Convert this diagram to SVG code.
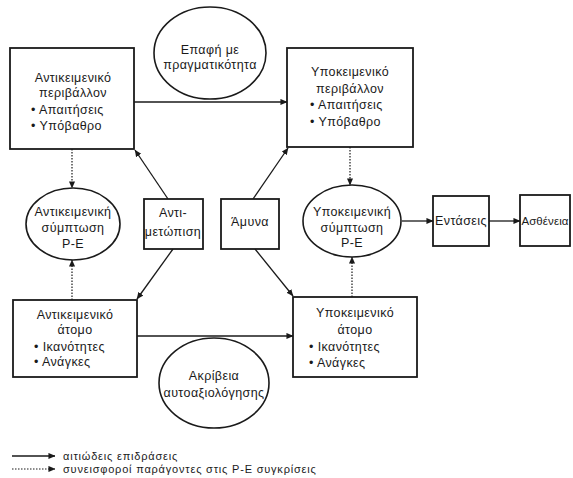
<svg xmlns="http://www.w3.org/2000/svg" width="573" height="478" viewBox="0 0 573 478">
<defs>
<marker id="ah" viewBox="0 0 8 8" refX="7.5" refY="4" markerWidth="7" markerHeight="7" markerUnits="userSpaceOnUse" orient="auto">
<path d="M0,0.5 L8,4 L0,7.5 Z" fill="#1a1a1a"/>
</marker>
</defs>
<style>
text{font-family:"Liberation Sans","DejaVu Sans",Arial,sans-serif;font-size:12.5px;letter-spacing:0.4px;fill:#1a1a1a}
.c{text-anchor:middle}
.box{fill:#fff;stroke:#1a1a1a;stroke-width:1.8}
.ell{fill:#fff;stroke:#1a1a1a;stroke-width:1.6}
.sol{stroke:#1a1a1a;stroke-width:1.3;fill:none}
.dot{stroke:#1a1a1a;stroke-width:1.2;fill:none;stroke-dasharray:1.5 1.5}
.lg{font-size:11px;letter-spacing:0.8px}
.sm{font-size:11.5px;letter-spacing:0.1px}
</style>
<rect width="573" height="478" fill="#fff"/>

<g id="connectors">
<line class="sol" x1="134" y1="102" x2="287" y2="102" marker-end="url(#ah)"/>
<line class="sol" x1="137" y1="336" x2="293" y2="336" marker-end="url(#ah)"/>
<line class="dot" x1="72" y1="149" x2="72" y2="188" marker-end="url(#ah)"/>
<line class="dot" x1="72" y1="300" x2="72" y2="260" marker-end="url(#ah)"/>
<line class="dot" x1="350" y1="147" x2="350" y2="185" marker-end="url(#ah)"/>
<line class="dot" x1="352" y1="297" x2="352" y2="257" marker-end="url(#ah)"/>
<line class="sol" x1="168" y1="199" x2="135" y2="150" marker-end="url(#ah)"/>
<line class="sol" x1="173" y1="249" x2="137" y2="299" marker-end="url(#ah)"/>
<line class="sol" x1="253" y1="199" x2="288" y2="148" marker-end="url(#ah)"/>
<line class="sol" x1="255" y1="249" x2="293" y2="296" marker-end="url(#ah)"/>
<line class="sol" x1="402" y1="221" x2="433" y2="221" marker-end="url(#ah)"/>
<line class="sol" x1="489" y1="221" x2="520" y2="221" marker-end="url(#ah)"/>
</g>

<g id="obj-env">
<rect class="box" x="10" y="48" width="124" height="101"/>
<text class="c" x="73" y="82">Αντικειμενικό</text>
<text class="c" x="73" y="97">περιβάλλον</text>
<text x="31" y="114">• Απαιτήσεις</text>
<text x="31" y="130">• Υπόβαθρο</text>
</g>

<g id="reality">
<ellipse class="ell" cx="210" cy="53" rx="56" ry="46"/>
<text class="c" x="210" y="54">Επαφή με</text>
<text class="c" x="210" y="69">πραγματικότητα</text>
</g>

<g id="subj-env">
<rect class="box" x="287" y="48" width="126" height="99"/>
<text class="c" x="350" y="76">Υποκειμενικό</text>
<text class="c" x="350" y="93">περιβάλλον</text>
<text x="310" y="109">• Απαιτήσεις</text>
<text x="310" y="126">• Υπόβαθρο</text>
</g>

<g id="obj-fit">
<ellipse class="ell" cx="73" cy="224" rx="47" ry="36"/>
<text class="c" x="73" y="216">Αντικειμενική</text>
<text class="c" x="73" y="232">σύμπτωση</text>
<text class="c" x="73" y="248">P-E</text>
</g>

<g id="coping">
<rect class="box" x="144" y="199" width="59" height="50"/>
<text class="c" x="173" y="217">Αντι-</text>
<text class="c" x="173" y="236">μετώπιση</text>
</g>

<g id="defense">
<rect class="box" x="221" y="199" width="58" height="50"/>
<text class="c" x="250" y="226">Άμυνα</text>
</g>

<g id="subj-fit">
<ellipse class="ell" cx="352" cy="221" rx="49" ry="36"/>
<text class="c" x="352" y="216">Υποκειμενική</text>
<text class="c" x="352" y="232">σύμπτωση</text>
<text class="c" x="352" y="247">P-E</text>
</g>

<g id="strain">
<rect class="box" x="433" y="196" width="56" height="50"/>
<text class="c" x="461" y="225">Εντάσεις</text>
</g>

<g id="illness">
<rect class="box" x="520" y="195" width="50" height="51"/>
<text class="c sm" x="545" y="225">Ασθένεια</text>
</g>

<g id="obj-person">
<rect class="box" x="13" y="300" width="124" height="77"/>
<text class="c" x="75" y="319">Αντικειμενικό</text>
<text class="c" x="75" y="334">άτομο</text>
<text x="34" y="351">• Ικανότητες</text>
<text x="34" y="366">• Ανάγκες</text>
</g>

<g id="accuracy">
<ellipse class="ell" cx="214" cy="383" rx="55" ry="45"/>
<text class="c" x="214" y="380">Ακρίβεια</text>
<text class="c" x="214" y="397">αυτοαξιολόγησης</text>
</g>

<g id="subj-person">
<rect class="box" x="293" y="297" width="124" height="80"/>
<text class="c" x="355" y="317">Υποκειμενικό</text>
<text class="c" x="355" y="334">άτομο</text>
<text x="309" y="351">• Ικανότητες</text>
<text x="309" y="367">• Ανάγκες</text>
</g>

<g id="legend">
<line class="sol" x1="12" y1="456" x2="55" y2="456" marker-end="url(#ah)"/>
<line class="dot" x1="12" y1="469" x2="55" y2="469" marker-end="url(#ah)"/>
<text class="lg" x="63" y="460">αιτιώδεις επιδράσεις</text>
<text class="lg" x="63" y="473">συνεισφοροί παράγοντες στις P-E συγκρίσεις</text>
</g>
</svg>
